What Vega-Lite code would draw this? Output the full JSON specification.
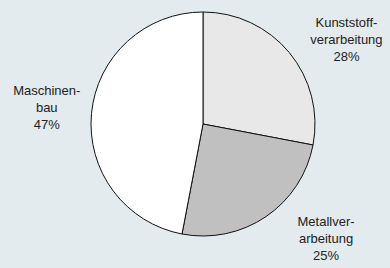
{
  "$schema": "https://vega.github.io/schema/vega-lite/v6.json",
  "width": 374,
  "height": 248,
  "autosize": {"type": "none"},
  "padding": {"left": 16, "top": 0, "right": 0, "bottom": 20},
  "background": "#e3ebee",
  "view": {"stroke": null},
  "data": {
    "values": [
      {"category": "Kunststoffverarbeitung", "label": "Kunststoff-\nverarbeitung\n28%", "share": 28},
      {"category": "Metallverarbeitung", "label": "Metallver-\narbeitung\n25%", "share": 25},
      {"category": "Maschinenbau", "label": "Maschinen-\nbau\n47%", "share": 47}
    ]
  },
  "encoding": {
    "theta": {"field": "share", "type": "quantitative", "stack": true, "scale": {"range": [1.759292, 8.042477]}},
    "order": {"field": "category", "type": "nominal", "sort": "descending"},
    "color": {
      "field": "category",
      "type": "nominal",
      "scale": {
        "domain": ["Kunststoffverarbeitung", "Metallverarbeitung", "Maschinenbau"],
        "range": ["#e8e8e8", "#c0c0c0", "#ffffff"]
      },
      "legend": null
    }
  },
  "layer": [
    {"mark": {"type": "arc", "outerRadius": 112, "stroke": "#111111", "strokeWidth": 1}},
    {
      "mark": {"type": "text", "radius": 168, "dx": 14, "dy": 6, "font": "Liberation Sans", "fontSize": 13, "lineBreak": "\n", "lineHeight": 17, "align": "center", "baseline": "middle"},
      "encoding": {
        "text": {"condition": {"test": "datum.category === 'Kunststoffverarbeitung'", "field": "label"}, "value": ""},
        "fill": {"value": "#222222"}
      }
    },
    {
      "mark": {"type": "text", "radius": 168, "dx": 28.6, "dy": -41, "font": "Liberation Sans", "fontSize": 13, "lineBreak": "\n", "lineHeight": 17, "align": "center", "baseline": "middle"},
      "encoding": {
        "text": {"condition": {"test": "datum.category === 'Metallverarbeitung'", "field": "label"}, "value": ""},
        "fill": {"value": "#222222"}
      }
    },
    {
      "mark": {"type": "text", "radius": 168, "dx": 11, "dy": -17, "font": "Liberation Sans", "fontSize": 13, "lineBreak": "\n", "lineHeight": 17, "align": "center", "baseline": "middle"},
      "encoding": {
        "text": {"condition": {"test": "datum.category === 'Maschinenbau'", "field": "label"}, "value": ""},
        "fill": {"value": "#222222"}
      }
    }
  ]
}
